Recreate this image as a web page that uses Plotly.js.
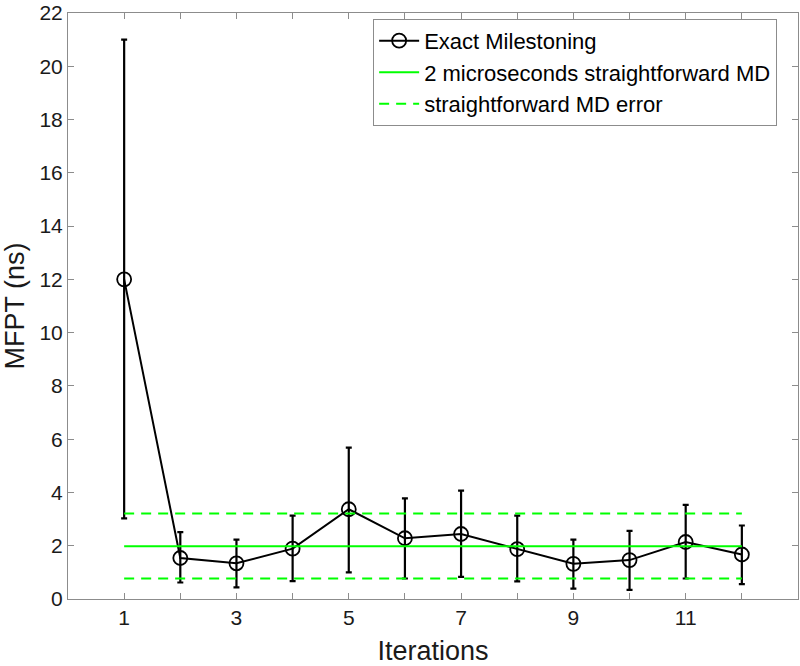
<!DOCTYPE html>
<html>
<head>
<meta charset="utf-8">
<script src="https://cdn.plot.ly/plotly-3.0.1.min.js"></script>
<style>html,body{margin:0;padding:0;background:#fff;}#chart{width:800px;height:666px;}</style>
</head>
<body>
<div id="chart"></div>
<script>
const iterations = [1,2,3,4,5,6,7,8,9,10,11,12];
const mfpt      = [12.0,1.54,1.34,1.89,3.37,2.28,2.44,1.87,1.32,1.46,2.14,1.67];
const errUpper  = [21.0,2.51,2.23,3.13,5.68,3.78,4.07,3.13,2.23,2.56,3.53,2.76];
const errLower  = [3.03,0.62,0.44,0.67,1.00,0.77,0.83,0.66,0.39,0.34,0.77,0.56];
const mdX = [1,12];
const mdMean = 1.98;
const mdHigh = 3.21;
const mdLow = 0.77;
const xTickVals = [1,2,3,4,5,6,7,8,9,10,11,12];
const xTickText = ['1','','3','','5','','7','','9','','11',''];

const plus = mfpt.map((v,i)=>errUpper[i]-v);
const minus = mfpt.map((v,i)=>v-errLower[i]);

const font = 'Liberation Sans, Arial, Helvetica, sans-serif';

const traces = [
  {
    x: iterations, y: mfpt, type: 'scatter', mode: 'lines+markers',
    name: 'Exact Milestoning',
    line: {color: '#000', width: 2},
    marker: {symbol: 'circle-open', size: 14, color: '#000', line: {width: 1.8, color: '#000'}},
    error_y: {type: 'data', symmetric: false, array: plus, arrayminus: minus, color: '#000', thickness: 2.2, width: 3}
  },
  {
    x: mdX, y: mdX.map(()=>mdMean), type: 'scatter', mode: 'lines',
    name: '2 microseconds straightforward MD',
    line: {color: '#00ff00', width: 2}
  },
  {
    x: mdX, y: mdX.map(()=>mdHigh), type: 'scatter', mode: 'lines',
    name: 'straightforward MD error',
    line: {color: '#00ff00', width: 2, dash: '10px,7px'}
  },
  {
    x: mdX, y: mdX.map(()=>mdLow), type: 'scatter', mode: 'lines',
    name: 'straightforward MD error', showlegend: false,
    line: {color: '#00ff00', width: 2, dash: '10px,7px'}
  }
];

const axisCommon = {
  showline: true, linecolor: '#8c8c8c', linewidth: 1, mirror: 'ticks',
  ticks: 'inside', ticklen: 6, tickcolor: '#8c8c8c', tickwidth: 1,
  showgrid: false, zeroline: false, ticklabeloverflow: 'allow',
  tickfont: {family: font, size: 21, color: '#1a1a1a'}
};

const layout = {
  width: 800, height: 666,
  margin: {l: 68, r: 2, t: 13, b: 67},
  paper_bgcolor: '#fff', plot_bgcolor: '#fff',
  showlegend: true,
  xaxis: Object.assign({}, axisCommon, {
    range: [0, 13], tickmode: 'array', tickvals: xTickVals, ticktext: xTickText,
    title: {text: 'Iterations', font: {family: font, size: 27, color: '#1a1a1a'}, standoff: 13}
  }),
  yaxis: Object.assign({}, axisCommon, {
    range: [0, 22], tickmode: 'linear', tick0: 0, dtick: 2,
    title: {text: 'MFPT (ns)', font: {family: font, size: 27, color: '#1a1a1a'}, standoff: 7}
  }),
  legend: {
    x: 0.418, y: 0.99, xanchor: 'left', yanchor: 'top',
    bgcolor: '#fff', bordercolor: '#8c8c8c', borderwidth: 1,
    font: {family: font, size: 22, color: '#000'},
    tracegroupgap: 0, itemwidth: 40
  }
};

Plotly.newPlot('chart', traces, layout, {displayModeBar: false, staticPlot: true});
</script>
</body>
</html>
